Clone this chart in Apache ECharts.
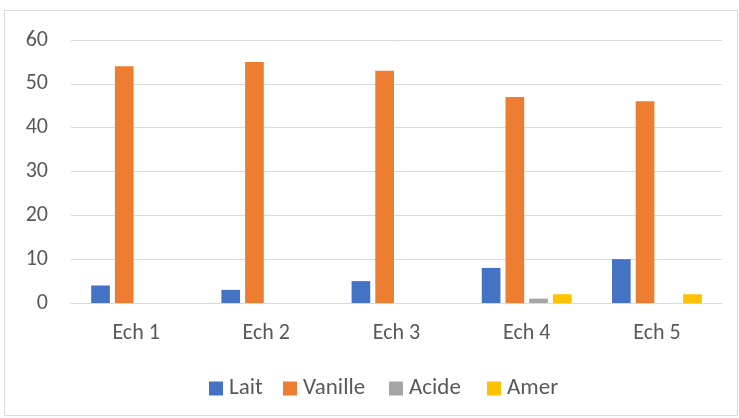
<!DOCTYPE html>
<html><head><meta charset="utf-8">
<script src="https://cdn.jsdelivr.net/npm/echarts@6/dist/echarts.min.js"></script>
<style>html,body{margin:0;padding:0;background:#fff}#c{width:739px;height:418px}</style>
</head><body><div id="c"></div>
<script>
const categories = ['Ech 1','Ech 2','Ech 3','Ech 4','Ech 5'];
const lait = [4, 3, 5, 8, 10];
const vanille = [54, 55, 53, 47, 46];
const acide = [0, 0, 0, 1, 0];
const amer = [0, 0, 0, 2, 2];
const seriesNames = ['Lait','Vanille','Acide','Amer'];
const colors = ['#4472C4','#ED7D31','#A5A5A5','#FFC000'];
const yTicks = {min:0, max:60, interval:10};

const chart = echarts.init(document.getElementById('c'), null, {renderer:'canvas'});
const font = 'Calibri, Carlito, Lato, sans-serif';
const legendLeft = [209, 283, 389, 487];
const mk = (name, data, i) => ({
  name, type:'bar', data, barGap:'27%', barCategoryGap:'31%',
  itemStyle:{color:colors[i]}
});
chart.setOption({
  animation:false,
  color:colors,
  graphic:[{type:'rect', shape:{x:4.5,y:10.5,width:733,height:405}, style:{fill:'none', stroke:'#d9d9d9', lineWidth:1}}],
  grid:{left:71, right:17, top:40, bottom:115},
  legend: seriesNames.map((n, i) => ({
    top:377, left:legendLeft[i], padding:0, itemWidth:14, itemHeight:14,
    icon:'rect', textStyle:{color:'#595959', fontSize:23, fontFamily:font, padding:[0,0,0,1]}, data:[n]
  })),
  xAxis:{type:'category', data:categories,
    axisLine:{lineStyle:{color:'#d9d9d9', width:1}}, axisTick:{show:false},
    axisLabel:{color:'#595959', fontSize:22, fontFamily:font, margin:19}},
  yAxis:{type:'value', min:yTicks.min, max:yTicks.max, interval:yTicks.interval,
    axisLine:{show:false}, axisTick:{show:false},
    splitLine:{lineStyle:{color:'#d9d9d9', width:1}},
    axisLabel:{color:'#595959', fontSize:22, fontFamily:font, margin:23}},
  series:[mk('Lait',lait,0), mk('Vanille',vanille,1), mk('Acide',acide,2), mk('Amer',amer,3)]
});
</script></body></html>
